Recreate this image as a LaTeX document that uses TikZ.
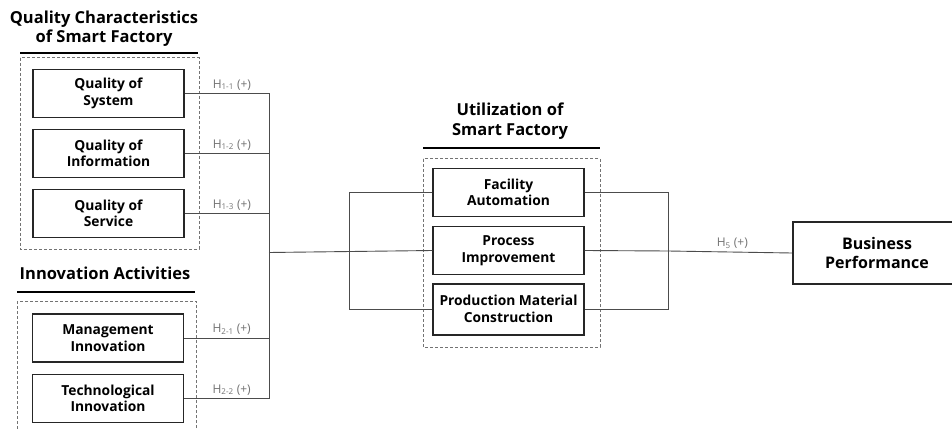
\documentclass[tikz,border=0pt]{standalone}
\usepackage{fontspec}
\setmainfont{Open Sans}

\begin{document}
\begin{tikzpicture}[x=1pt,y=-1pt,
	box/.style={draw=black!85,line width=1.3pt,fill=white,minimum width=151pt,minimum height=48pt,inner sep=2pt,align=center,font=\bfseries\fontsize{13.8}{16.5}\selectfont},
	group/.style={draw=black!55,line width=1pt,dash pattern=on 3pt off 2pt},
	bar/.style={line width=2.5pt},
	title/.style={align=center,inner sep=0pt,font=\bfseries\fontsize{16.5}{19.5}\selectfont},
	link/.style={draw=black!70,line width=0.9pt},
	hyp/.style={anchor=south,text=black!55,inner sep=3pt,font=\fontsize{12}{14}\selectfont}]
	\clip (0,0) rectangle (952,430);
	\fill[white] (0,0) rectangle (952,430);

	\node[title] (qtitle) at (104,28.5) {Quality Characteristics\\of Smart Factory};
	\draw[bar] (20,53) -- (198,53);
	\draw[group] (20,58) rectangle (199,249);
	\node[box] (sys) at (108.5,93.5) {Quality of\\System};
	\node[box] (inf) at (108.5,153.5) {Quality of\\Information};
	\node[box] (srv) at (108.5,213.5) {Quality of\\Service};

	\node[title] (ititle) at (105,273) {Innovation Activities};
	\draw[bar] (17,292) -- (195,292);
	\draw[group] (17,301) rectangle (196,445);
	\node[box] (mgt) at (108,338) {Management\\Innovation};
	\node[box] (tec) at (108,398.5) {Technological\\Innovation};

	\node[title] (utitle) at (510,121) {Utilization of\\Smart Factory};
	\draw[bar] (423,148) -- (600,148);
	\draw[group] (423,159) rectangle (600,347);
	\node[box] (fac) at (508.5,192.5) {Facility\\Automation};
	\node[box] (prc) at (508.5,250.5) {Process\\Improvement};
	\node[box,line width=2pt,minimum height=51pt] (prd) at (508.5,309) {Production Material\\Construction};

	\node[box,line width=2.5pt,minimum width=168pt,minimum height=62pt,font=\bfseries\fontsize{16}{18.5}\selectfont] (bus) at (877,253) {Business\\Performance};

	\coordinate (lbus) at (269,93.5);
	\coordinate (lmid) at (269,252.5);
	\coordinate (lbr) at (349,192.5);
	\coordinate (rbr) at (668,192.5);
	\coordinate (rmid) at (668,251);

	\draw[link] (sys.east) -- node[hyp,pos=0.56] (h11) {H\textsubscript{1-1} (+)} (sys.east -| lbus);
	\draw[link] (inf.east) -- node[hyp,pos=0.56] (h12) {H\textsubscript{1-2} (+)} (inf.east -| lbus);
	\draw[link] (srv.east) -- node[hyp,pos=0.56] (h13) {H\textsubscript{1-3} (+)} (srv.east -| lbus);
	\draw[link] (mgt.east) -- node[hyp,pos=0.56] (h21) {H\textsubscript{2-1} (+)} (mgt.east -| lbus);
	\draw[link] (tec.east) -- node[hyp,pos=0.56] (h22) {H\textsubscript{2-2} (+)} (tec.east -| lbus);
	\draw[link] (lbus) -- (tec.east -| lbus);
	\draw[link] (lmid) -- (prc.west);

	\draw[link] (fac.west) -- (lbr) -- (prd.west -| lbr) -- (prd.west);
	\draw[link] (fac.east) -- (rbr) -- (prd.east -| rbr) -- (prd.east);
	\draw[link] (prc.east) -- (rmid);
	\draw[link] (rmid) -- node[hyp,pos=0.52] (h5) {H\textsubscript{5} (+)} (bus.west);
\end{tikzpicture}
\end{document}
